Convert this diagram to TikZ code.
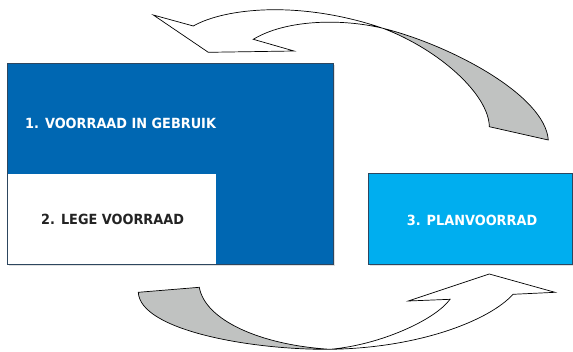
\documentclass[tikz,border=0pt]{standalone}
\usepackage{fontspec}
\setmainfont{DejaVu Sans}[FakeStretch=0.92]
\definecolor{darkblue}{RGB}{0,103,178}
\definecolor{lightblue}{RGB}{0,174,239}
\definecolor{bandgray}{RGB}{192,194,193}
\definecolor{edgeblue}{RGB}{45,70,95}
\definecolor{textdark}{RGB}{35,35,35}
\tikzset{
  box/.style={draw=edgeblue, line width=0.8pt, inner sep=0pt, outer sep=0pt, anchor=north west},
  shadowbox/.style={fill=black, opacity=0.12, inner sep=0pt, outer sep=0pt, anchor=north west, draw=none},
  lbl/.style={font=\fontsize{14}{16}\selectfont\bfseries, inner sep=0pt},
  band/.style={draw=black, line width=0.7pt, line join=miter},
}
\begin{document}
\begin{tikzpicture}[x=1pt,y=-1pt]
\useasboundingbox (0,0) rectangle (573,351);
% shadows
\node[shadowbox, minimum width=326pt, minimum height=201pt] (s1) at (9,65) {};
\node[shadowbox, minimum width=205pt, minimum height=91pt] (s3) at (370,175) {};
% box 1 (in use) with empty part
\node[box, fill=darkblue, minimum width=326pt, minimum height=201pt] (b1) at (7,63) {};
\node[fill=white, inner sep=0pt, outer sep=0pt, anchor=south west, minimum width=209pt, minimum height=90pt] (b2) at ([xshift=0.4pt,yshift=0.4pt]b1.south west) {};
\draw[edgeblue, line width=0.8pt] (b1.north west) -- (b1.south west);
\node[lbl, text=white, anchor=west] (t1) at (25,123) {1. VOORRAAD IN GEBRUIK};
\node[lbl, text=textdark, anchor=west] (t2) at (41,219) {2. LEGE VOORRAAD};
% box 3
\node[box, fill=lightblue, minimum width=204pt, minimum height=91pt] (b3) at (368,173) {};
\node[lbl, text=white] (t3) at (472,220) {3. PLANVOORRAD};
% top curved arrow: gray back side
\draw[band, fill=bandgray] (383,28.3) .. controls (450,45) and (545,95) .. (548.3,140)
  -- (489.3,126.7) .. controls (489,95) and (440,50) .. cycle;
% top curved arrow: white front with head
\draw[band, fill=white] (193.3,26) .. controls (225,8) and (300,0) .. (383,28.3)
  .. controls (340,18) and (285,20) .. (253.3,39.3)
  -- (294,51) -- (208.3,52.3) -- (153.3,15) -- cycle;
% bottom curved arrow: gray back side
\draw[band, fill=bandgray] (138.3,292.3) -- (199.3,287.3)
  .. controls (205,320) and (260,345) .. (330,349.3)
  .. controls (250,350) and (140,330) .. cycle;
% bottom curved arrow: white front with head
\draw[band, fill=white] (330,349.3) .. controls (420,348) and (490,320) .. (513,294.3)
  -- (555,292.3) -- (489.3,274) -- (408.3,301) -- (450,299.3)
  .. controls (435,320) and (380,345) .. cycle;
\end{tikzpicture}
\end{document}
